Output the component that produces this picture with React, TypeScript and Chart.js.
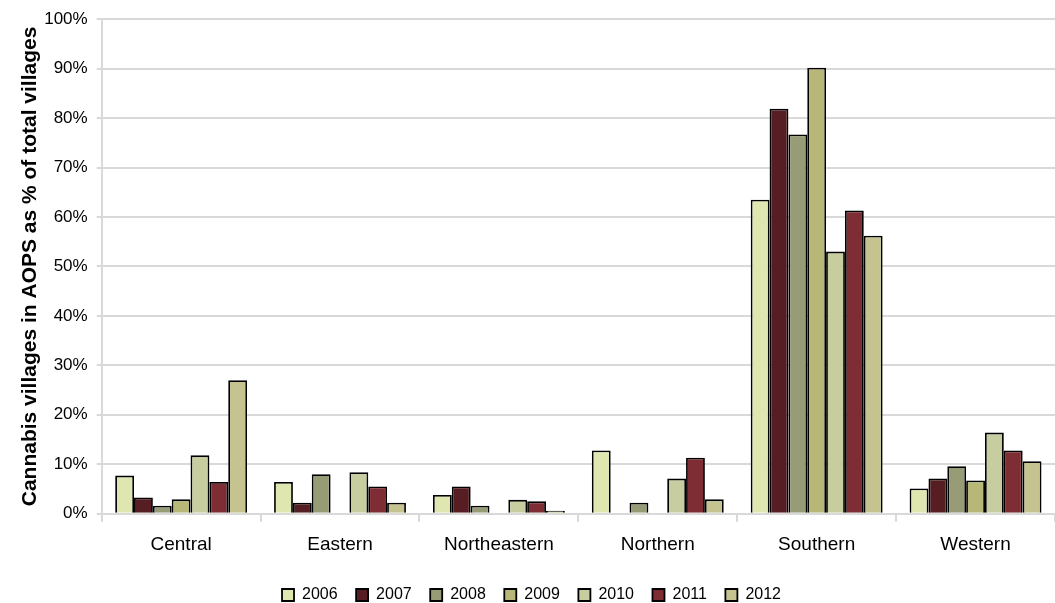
import React, { useEffect, useRef } from "react";
import { Chart, registerables } from "chart.js";

Chart.register(...registerables);

const categories = ["Central", "Eastern", "Northeastern", "Northern", "Southern", "Western"];
const years = ["2006", "2007", "2008", "2009", "2010", "2011", "2012"];
const v2006 = [7.7, 6.4, 3.8, 12.8, 63.5, 5.1];
const v2007 = [3.3, 2.2, 5.5, null, 81.9, 7.1];
const v2008 = [1.6, 8.0, 1.6, 2.2, 76.7, 9.6];
const v2009 = [2.9, null, null, null, 90.2, 6.7];
const v2010 = [11.8, 8.4, 2.8, 7.1, 53.0, 16.4];
const v2011 = [6.4, 5.5, 2.5, 11.3, 61.3, 12.8];
const v2012 = [27.0, 2.2, 0.6, 2.9, 56.2, 10.6];
const seriesValues = [v2006, v2007, v2008, v2009, v2010, v2011, v2012];
const colors = ["#E0E6B0", "#561E22", "#979B76", "#B7B778", "#C7CD9E", "#7E2D34", "#C5C490"];
const yTitle = "Cannabis villages in AOPS as % of total villages";

const FONT = "'Liberation Sans', Arial, sans-serif";
const GRID = "#D9D9D9";

export default function App() {
  const ref = useRef<HTMLCanvasElement | null>(null);
  useEffect(() => {
    if (!ref.current) return;
    const chart = new Chart(ref.current, {
      type: "bar",
      data: {
        labels: categories,
        datasets: years.map((y, i) => ({
          label: y,
          data: seriesValues[i],
          backgroundColor: colors[i],
          borderColor: "#000000",
          borderWidth: 1.8,
          categoryPercentage: 0.83,
          barPercentage: 1.0,
        })),
      },
      options: {
        responsive: false,
        animation: false,
        layout: { padding: { top: 15, right: 0, left: 8, bottom: -10 } },
        plugins: {
          tooltip: { enabled: false },
          legend: {
            position: "bottom",
            labels: {
              boxWidth: 12,
              boxHeight: 12,
              padding: 18.5,
              color: "#000",
              font: { family: FONT, size: 16 },
            },
          },
        },
        scales: {
          x: {
            offset: true,
            grid: {
              offset: true,
              drawOnChartArea: false,
              drawTicks: true,
              tickLength: 8,
              color: GRID,
              lineWidth: 2,
            },
            border: { display: true, color: GRID, width: 2 },
            ticks: {
              color: "#000",
              padding: 12,
              font: { family: FONT, size: 19 },
            },
          },
          y: {
            min: 0,
            max: 100,
            ticks: {
              stepSize: 10,
              color: "#000",
              padding: 9,
              font: { family: FONT, size: 17 },
              callback: (v: any) => v + "%",
            },
            grid: { color: GRID, lineWidth: 2, tickLength: 5 },
            border: { display: true, color: GRID, width: 2 },
            title: {
              display: true,
              text: yTitle,
              color: "#000",
              font: { family: FONT, size: 21, weight: "bold" },
              padding: { top: 10, bottom: -8 },
            },
          },
        },
      },
    });
    return () => chart.destroy();
  }, []);
  return (
    <div style={{ position: "fixed", left: 0, top: 0, width: 1055, height: 603, background: "#fff" }}>
      <canvas ref={ref} width={1055} height={603} />
    </div>
  );
}
